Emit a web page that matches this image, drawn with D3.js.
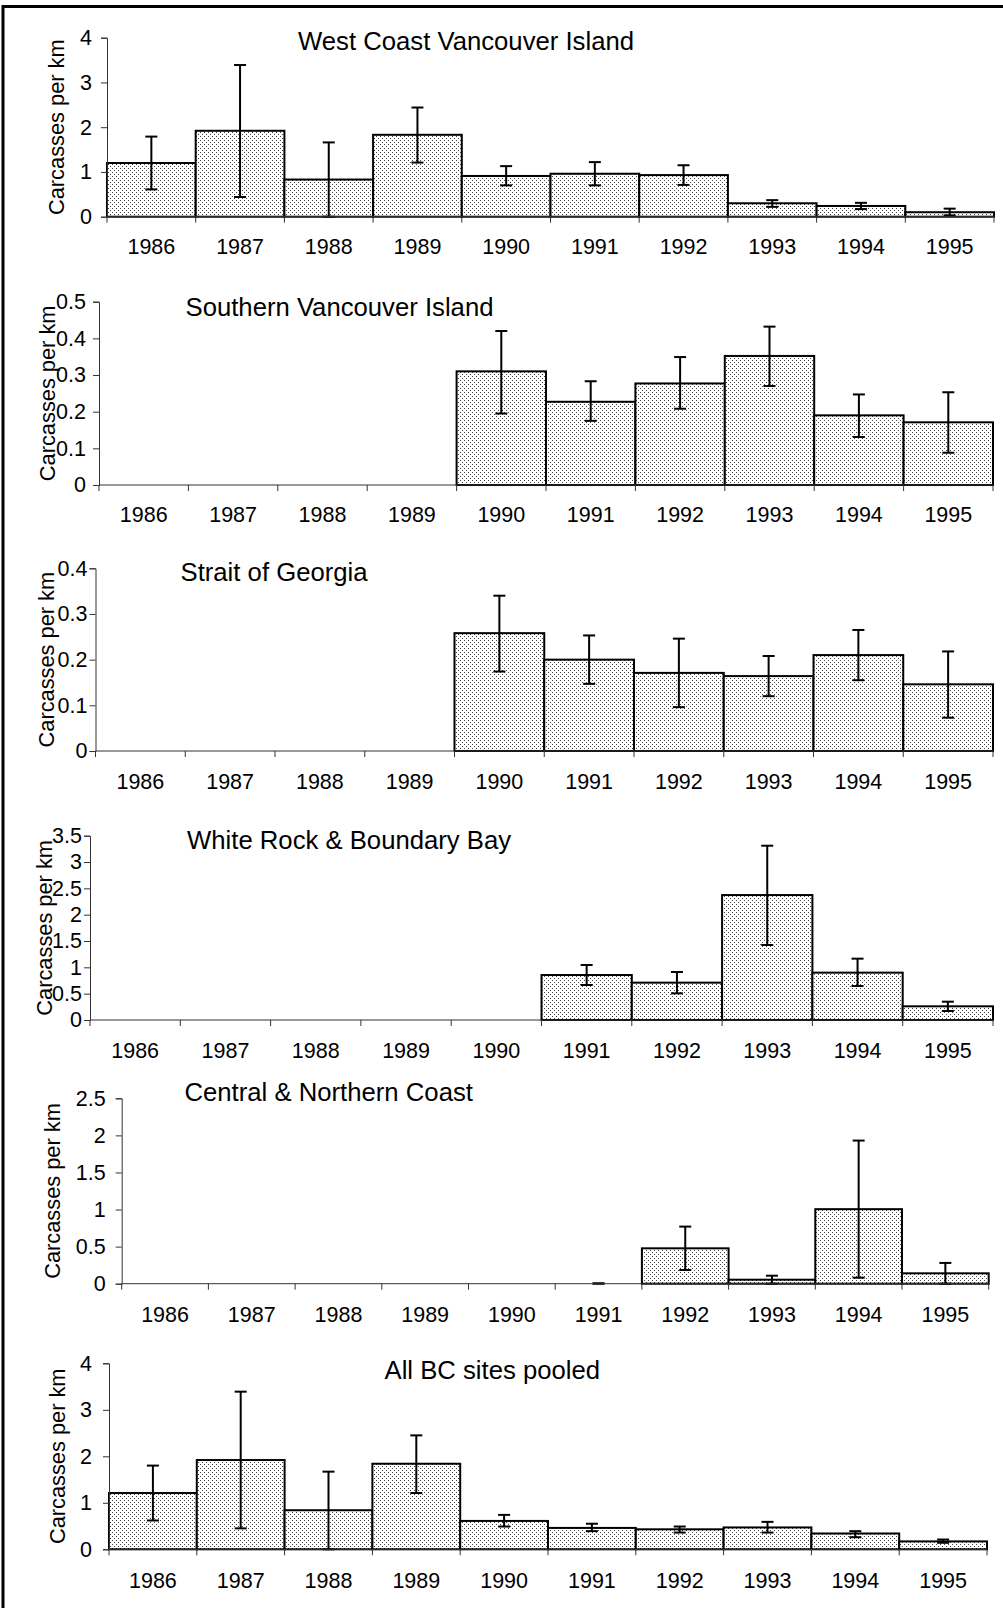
<!DOCTYPE html>
<html>
<head>
<meta charset="utf-8">
<script src="https://cdn.jsdelivr.net/npm/d3@7"></script>
<style>
  body { margin: 0; background: #fff; }
  svg { display: block; font-family: "Liberation Sans", Arial, sans-serif; }
</style>
</head>
<body>
<svg width="1003" height="1608"></svg>
<script>
var years = ['1986', '1987', '1988', '1989', '1990', '1991', '1992', '1993', '1994', '1995'];

var titles = [
  'West Coast Vancouver Island',
  'Southern Vancouver Island',
  'Strait of Georgia',
  'White Rock & Boundary Bay',
  'Central & Northern Coast',
  'All BC sites pooled'
];

// mean carcasses per km, with lower / upper ends of the error bars
var wcviMean = [1.20, 1.92, 0.83, 1.83, 0.91, 0.96, 0.93, 0.30, 0.24, 0.10];
var wcviLow  = [0.61, 0.44, 0.00, 1.21, 0.70, 0.70, 0.71, 0.22, 0.17, 0.03];
var wcviHigh = [1.79, 3.39, 1.66, 2.44, 1.13, 1.22, 1.15, 0.37, 0.31, 0.18];

var sviMean = [null, null, null, null, 0.310, 0.227, 0.277, 0.352, 0.190, 0.171];
var sviLow  = [null, null, null, null, 0.195, 0.175, 0.208, 0.270, 0.131, 0.088];
var sviHigh = [null, null, null, null, 0.420, 0.283, 0.349, 0.432, 0.247, 0.253];

var sogMean = [null, null, null, null, 0.258, 0.200, 0.171, 0.164, 0.210, 0.146];
var sogLow  = [null, null, null, null, 0.174, 0.147, 0.096, 0.120, 0.155, 0.073];
var sogHigh = [null, null, null, null, 0.340, 0.253, 0.246, 0.208, 0.265, 0.218];

var wrbbMean = [null, null, null, null, null, 0.854, 0.709, 2.373, 0.899, 0.260];
var wrbbLow  = [null, null, null, null, null, 0.665, 0.506, 1.424, 0.646, 0.171];
var wrbbHigh = [null, null, null, null, null, 1.044, 0.911, 3.310, 1.165, 0.348];

var cncMean = [null, null, null, null, null, 0.000, 0.477, 0.054, 1.005, 0.140];
var cncLow  = [null, null, null, null, null, 0.000, 0.185, 0.000, 0.081, 0.000];
var cncHigh = [null, null, null, null, null, 0.005, 0.770, 0.108, 1.930, 0.280];

var allMean = [1.21, 1.92, 0.84, 1.84, 0.61, 0.46, 0.43, 0.47, 0.34, 0.17];
var allLow  = [0.62, 0.45, 0.00, 1.21, 0.49, 0.39, 0.36, 0.36, 0.26, 0.14];
var allHigh = [1.80, 3.39, 1.67, 2.45, 0.74, 0.55, 0.49, 0.59, 0.39, 0.21];

var yMax  = [4, 0.5, 0.4, 3.5, 2.5, 4];
var yStep = [1, 0.1, 0.1, 0.5, 0.5, 1];

var series = [
  [wcviMean, wcviLow, wcviHigh],
  [sviMean, sviLow, sviHigh],
  [sogMean, sogLow, sogHigh],
  [wrbbMean, wrbbLow, wrbbHigh],
  [cncMean, cncLow, cncHigh],
  [allMean, allLow, allHigh]
];

// panel placement on the page
var layout = [
  { x0: 107, x1: 994, top: 37.7, zero: 216.7, titleX: 298, titleY: 50, labelX: 56, tickGap: 15, xLabelDy: 30 },
  { x0: 99, x1: 993, top: 301.7, zero: 485, titleX: 185.5, titleY: 315.5, labelX: 47.5, tickGap: 13, xLabelDy: 29 },
  { x0: 95.5, x1: 993, top: 568.3, zero: 751, titleX: 180.5, titleY: 580.5, labelX: 46, tickGap: 8, xLabelDy: 30 },
  { x0: 90, x1: 993, top: 835.7, zero: 1020, titleX: 187, titleY: 848.5, labelX: 44, tickGap: 8, xLabelDy: 30 },
  { x0: 121.7, x1: 988.7, top: 1098.3, zero: 1283.7, titleX: 184.5, titleY: 1100.5, labelX: 52.5, tickGap: 16, xLabelDy: 31 },
  { x0: 109, x1: 987, top: 1363.3, zero: 1549.3, titleX: 384.5, titleY: 1378.5, labelX: 57, tickGap: 17, xLabelDy: 31 }
];

var svg = d3.select('svg');

svg.append('rect').attr('width', 1003).attr('height', 1608).attr('fill', '#fff');

var pat = svg.append('defs').append('pattern')
  .attr('id', 'dots')
  .attr('patternUnits', 'userSpaceOnUse')
  .attr('width', 4)
  .attr('height', 4);
pat.append('rect').attr('width', 4).attr('height', 4).attr('fill', '#fff');
pat.append('rect').attr('x', 0).attr('y', 0).attr('width', 1).attr('height', 1).attr('fill', '#444');
pat.append('rect').attr('x', 2).attr('y', 2).attr('width', 1).attr('height', 1).attr('fill', '#444');

// outer frame (only left and top edges fall inside the page)
svg.append('rect')
  .attr('x', 3).attr('y', 6.5)
  .attr('width', 1010).attr('height', 1615)
  .attr('fill', 'none')
  .attr('stroke', '#000')
  .attr('stroke-width', 3);

var fmt = d3.format('~g');

layout.forEach(function (L, p) {
  var mean = series[p][0], low = series[p][1], high = series[p][2];
  var g = svg.append('g');

  var x = d3.scaleBand().domain(years).range([L.x0, L.x1]).padding(0);
  var y = d3.scaleLinear().domain([0, yMax[p]]).range([L.zero, L.top]);

  var rows = years.map(function (yr, i) {
    return { year: yr, mean: mean[i], low: low[i], high: high[i] };
  }).filter(function (d) { return d.mean !== null; });

  // bars
  g.append('g').selectAll('rect')
    .data(rows)
    .enter()
    .append('rect')
    .attr('x', function (d) { return x(d.year); })
    .attr('width', x.bandwidth())
    .attr('y', function (d) { return y(d.mean); })
    .attr('height', function (d) { return y(0) - y(d.mean); })
    .attr('fill', 'url(#dots)')
    .attr('stroke', '#000')
    .attr('stroke-width', 2);

  // error bars
  var eb = g.append('g').selectAll('g')
    .data(rows)
    .enter()
    .append('g')
    .attr('stroke', '#000')
    .attr('stroke-width', 2);
  var cx = function (d) { return x(d.year) + x.bandwidth() / 2; };
  eb.append('line')
    .attr('x1', cx).attr('x2', cx)
    .attr('y1', function (d) { return y(d.low); })
    .attr('y2', function (d) { return y(d.high); });
  eb.append('line')
    .attr('x1', function (d) { return cx(d) - 6; }).attr('x2', function (d) { return cx(d) + 6; })
    .attr('y1', function (d) { return y(d.high); })
    .attr('y2', function (d) { return y(d.high); });
  eb.append('line')
    .attr('x1', function (d) { return cx(d) - 6; }).attr('x2', function (d) { return cx(d) + 6; })
    .attr('y1', function (d) { return y(d.low); })
    .attr('y2', function (d) { return y(d.low); });

  // y axis
  var yAxis = d3.axisLeft(y)
    .tickValues(d3.range(0, yMax[p] + yStep[p] / 2, yStep[p]))
    .tickFormat(fmt)
    .tickSize(6)
    .tickPadding(L.tickGap - 6);
  var ya = g.append('g')
    .attr('transform', 'translate(' + L.x0 + ',0)')
    .call(yAxis);
  ya.select('.domain').attr('stroke', '#333');
  ya.selectAll('line').attr('stroke', '#333');
  ya.selectAll('text')
    .attr('fill', '#000')
    .style('font-size', '21.5px')
    .style('font-family', '"Liberation Sans", Arial, sans-serif');

  // x axis line and boundary ticks
  g.append('line')
    .attr('x1', L.x0).attr('x2', L.x1)
    .attr('y1', y(0)).attr('y2', y(0))
    .attr('stroke', '#333')
    .attr('stroke-width', 1);
  var bounds = years.map(function (yr) { return x(yr); }).concat([L.x1]);
  g.append('g').selectAll('line')
    .data(bounds)
    .enter()
    .append('line')
    .attr('x1', function (d) { return d; })
    .attr('x2', function (d) { return d; })
    .attr('y1', y(0))
    .attr('y2', y(0) + 6)
    .attr('stroke', '#333');
  g.append('g').selectAll('text')
    .data(years)
    .enter()
    .append('text')
    .attr('x', function (d) { return x(d) + x.bandwidth() / 2; })
    .attr('y', y(0) + L.xLabelDy)
    .attr('dy', '0.35em')
    .attr('text-anchor', 'middle')
    .style('font-size', '21.5px')
    .text(function (d) { return d; });

  // title
  g.append('text')
    .attr('x', L.titleX)
    .attr('y', L.titleY)
    .style('font-size', '25.7px')
    .text(titles[p]);

  // y label
  var midY = (L.top + L.zero) / 2;
  g.append('text')
    .attr('transform', 'translate(' + L.labelX + ',' + midY + ') rotate(-90)')
    .attr('text-anchor', 'middle')
    .attr('dy', '0.36em')
    .style('font-size', '21.8px')
    .text('Carcasses per km');
});
</script>
</body>
</html>
